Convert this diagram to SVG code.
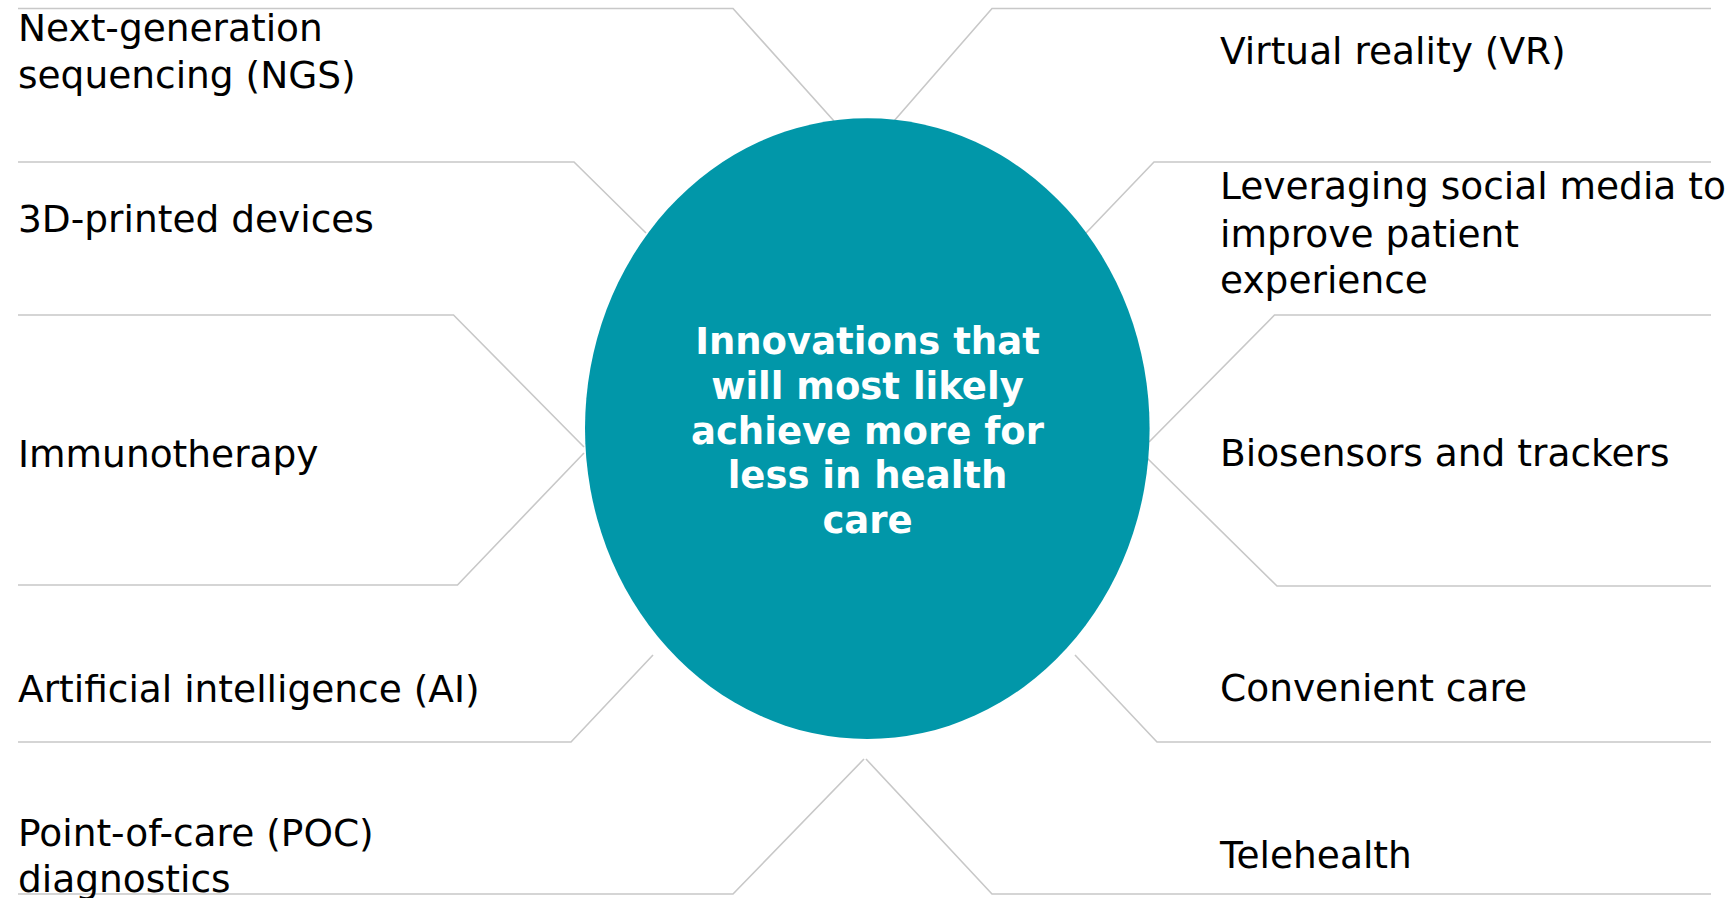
<svg xmlns="http://www.w3.org/2000/svg" width="1730" height="898" viewBox="0 0 1730 898">
<style>
.bg{fill:#ffffff}
.ln{fill:none;stroke:#c8c8c8;stroke-width:1.6}
.lbl{font-family:"DejaVu Sans","Verdana",sans-serif;font-size:37.5px;fill:#000000}
.ctr{font-family:"DejaVu Sans","Verdana",sans-serif;font-size:37px;font-weight:bold;fill:#ffffff;text-anchor:middle}
.hub{fill:#0197a9}
</style>
<rect class="bg" x="0" y="0" width="1730" height="898"/>
<g id="connectors">
<polyline class="ln" points="18,8.5 733,8.5 834,121"/>
<polyline class="ln" points="18,162 574,162 646,233"/>
<polyline class="ln" points="18,315 453.5,315 584,447"/>
<polyline class="ln" points="584,453 457.5,585 18,585"/>
<polyline class="ln" points="653,655 571,742 18,742"/>
<polyline class="ln" points="864,759 733,894 18,894"/>
<polyline class="ln" points="1711,8.5 992,8.5 894,121"/>
<polyline class="ln" points="1711,162 1154,162 1086,233"/>
<polyline class="ln" points="1711,315 1274.5,315 1149,442"/>
<polyline class="ln" points="1146,457 1277,586 1711,586"/>
<polyline class="ln" points="1075,655 1157,742 1711,742"/>
<polyline class="ln" points="866,759 992,894 1711,894"/>
</g>
<g id="hub">
<ellipse class="hub" cx="867.3" cy="428.6" rx="282.3" ry="310.4"/>
<text class="ctr" x="867.5"><tspan x="867.5" y="354">Innovations that</tspan><tspan x="867.5" y="399">will most likely</tspan><tspan x="867.5" y="443.5">achieve more for</tspan><tspan x="867.5" y="488">less in health</tspan><tspan x="867.5" y="533">care</tspan></text>
</g>
<g id="ngs"><text class="lbl"><tspan x="18" y="40.7">Next-generation</tspan><tspan x="18" y="88.3">sequencing (NGS)</tspan></text></g>
<g id="printed3d"><text class="lbl" x="18" y="231.7">3D-printed devices</text></g>
<g id="immunotherapy"><text class="lbl" x="18" y="466.7">Immunotherapy</text></g>
<g id="ai"><text class="lbl" x="18" y="701.7">Artificial intelligence (AI)</text></g>
<g id="poc"><text class="lbl"><tspan x="18" y="845.7">Point-of-care (POC)</tspan><tspan x="18" y="891.7">diagnostics</tspan></text></g>
<g id="vr"><text class="lbl" x="1220" y="64">Virtual reality (VR)</text></g>
<g id="social"><text class="lbl"><tspan x="1220" y="199">Leveraging social media to</tspan><tspan x="1220" y="246.7">improve patient</tspan><tspan x="1220" y="293.3">experience</tspan></text></g>
<g id="biosensors"><text class="lbl" x="1220" y="465.7">Biosensors and trackers</text></g>
<g id="convenient"><text class="lbl" x="1220" y="701">Convenient care</text></g>
<g id="telehealth"><text class="lbl" x="1220" y="867.7">Telehealth</text></g>
</svg>
